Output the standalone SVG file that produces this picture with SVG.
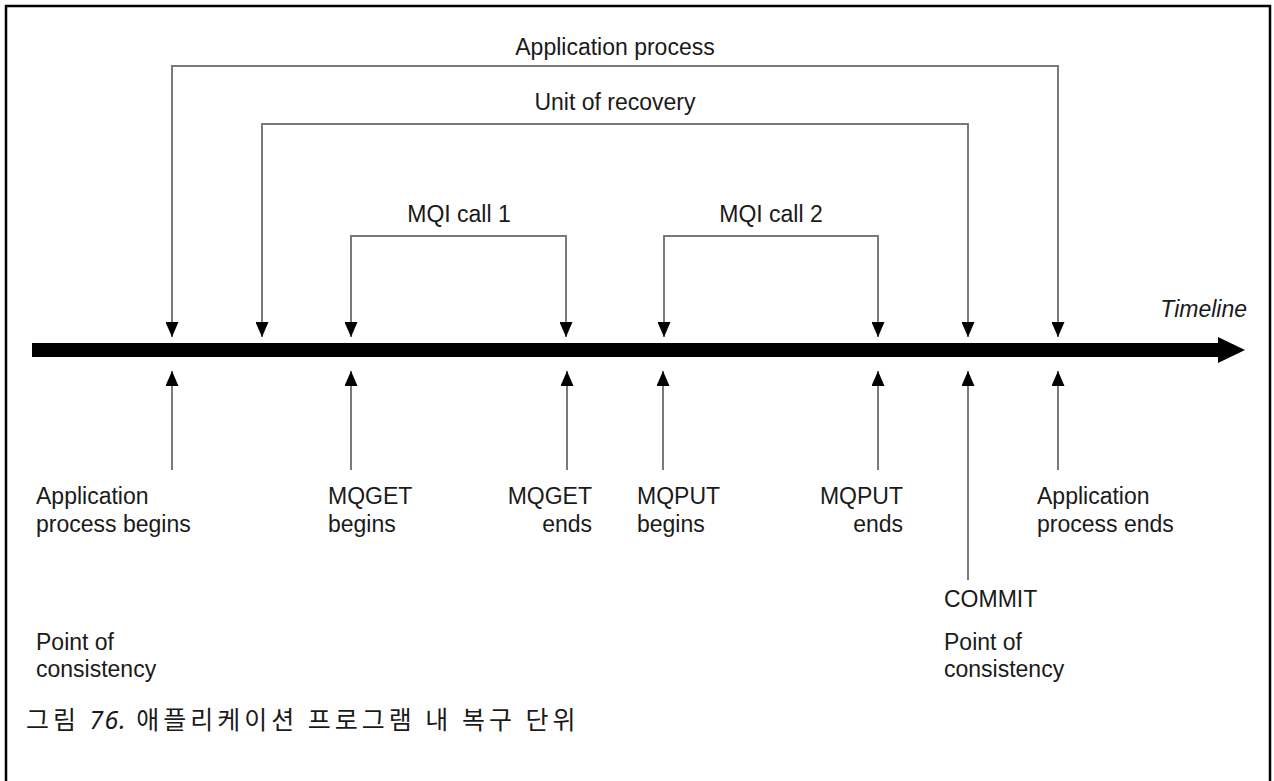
<svg xmlns="http://www.w3.org/2000/svg" width="1274" height="781" viewBox="0 0 1274 781">
<style>
.lbl{font-family:"Liberation Sans",Arial,sans-serif;font-size:23px;fill:#1a1a1a}
.conn{fill:none;stroke:#7a7a7a;stroke-width:2}
.cap{font-family:"Noto Sans CJK KR","Noto Sans",sans-serif;font-size:25px;letter-spacing:4px;fill:#1a1a1a}
.num{font-family:"Noto Sans","DejaVu Sans",sans-serif;font-style:italic;letter-spacing:1px}
</style>
<defs>
<marker id="ah" viewBox="0 0 15 13" refX="15" refY="6.5" markerWidth="15" markerHeight="13" markerUnits="userSpaceOnUse" orient="auto-start-reverse">
<path d="M0,0 L15,6.5 L0,13 z" fill="#000"/>
</marker>
</defs>
<rect x="0" y="0" width="1274" height="781" fill="#fff"/>
<rect id="frame" x="6" y="6" width="1264" height="800" fill="none" stroke="#000" stroke-width="2.5"/>

<g id="connectors">
<path class="conn" d="M172,337 V66 H1058 V337" marker-start="url(#ah)" marker-end="url(#ah)"/>
<path class="conn" d="M262,337 V124 H968 V337" marker-start="url(#ah)" marker-end="url(#ah)"/>
<path class="conn" d="M351,337 V236 H566 V337" marker-start="url(#ah)" marker-end="url(#ah)"/>
<path class="conn" d="M664,337 V236 H878 V337" marker-start="url(#ah)" marker-end="url(#ah)"/>
<path class="conn" d="M172,470 V371" marker-end="url(#ah)"/>
<path class="conn" d="M351,470 V371" marker-end="url(#ah)"/>
<path class="conn" d="M567,470 V371" marker-end="url(#ah)"/>
<path class="conn" d="M663,470 V371" marker-end="url(#ah)"/>
<path class="conn" d="M878,470 V371" marker-end="url(#ah)"/>
<path class="conn" d="M968,580 V371" marker-end="url(#ah)"/>
<path class="conn" d="M1058,470 V371" marker-end="url(#ah)"/>
</g>

<g id="timeline">
<rect x="32" y="343" width="1188" height="14" fill="#000"/>
<polygon points="1218,337 1245,350 1218,363" fill="#000"/>
<text class="lbl" x="1247" y="317" text-anchor="end" font-style="italic">Timeline</text>
</g>

<g id="app-process"><text class="lbl" x="615" y="55" text-anchor="middle">Application process</text></g>
<g id="unit-of-recovery"><text class="lbl" x="615" y="110" text-anchor="middle">Unit of recovery</text></g>
<g id="mqi-call-1"><text class="lbl" x="459" y="222" text-anchor="middle">MQI call 1</text></g>
<g id="mqi-call-2"><text class="lbl" x="771" y="222" text-anchor="middle">MQI call 2</text></g>

<g id="app-begins"><text class="lbl" x="36" y="504">Application</text><text class="lbl" x="36" y="532">process begins</text></g>
<g id="mqget-begins"><text class="lbl" x="328" y="504">MQGET</text><text class="lbl" x="328" y="532">begins</text></g>
<g id="mqget-ends"><text class="lbl" x="592" y="504" text-anchor="end">MQGET</text><text class="lbl" x="592" y="532" text-anchor="end">ends</text></g>
<g id="mqput-begins"><text class="lbl" x="637" y="504">MQPUT</text><text class="lbl" x="637" y="532">begins</text></g>
<g id="mqput-ends"><text class="lbl" x="903" y="504" text-anchor="end">MQPUT</text><text class="lbl" x="903" y="532" text-anchor="end">ends</text></g>
<g id="app-ends"><text class="lbl" x="1037" y="504">Application</text><text class="lbl" x="1037" y="532">process ends</text></g>
<g id="commit"><text class="lbl" x="944" y="607">COMMIT</text></g>
<g id="poc-right"><text class="lbl" x="944" y="650">Point of</text><text class="lbl" x="944" y="677">consistency</text></g>
<g id="poc-left"><text class="lbl" x="36" y="650">Point of</text><text class="lbl" x="36" y="677">consistency</text></g>

<g id="caption"><text class="cap" x="26" y="729">그림 <tspan class="num">76.</tspan> 애플리케이션 프로그램 내 복구 단위</text></g>
</svg>
